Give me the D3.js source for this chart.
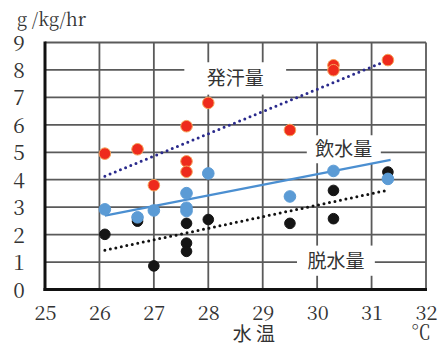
<!DOCTYPE html>
<html><head><meta charset="utf-8">
<script src="https://cdn.jsdelivr.net/npm/d3@7"></script>
<style>body{margin:0;background:#fff}svg{display:block}</style>
</head><body>
<script>
// ---- data ----
const xTicks = [25,26,27,28,29,30,31,32];
const yTicks = [0,1,2,3,4,5,6,7,8,9];
const sweatX = [26.1,26.7,27.0,27.6,27.6,27.6,28.0,29.5,30.3,30.3,31.3];
const sweatY = [4.95,5.11,3.80,5.95,4.67,4.29,6.80,5.81,8.17,7.99,8.36];
const drinkX = [26.1,26.7,27.0,27.6,27.6,27.6,28.0,29.5,30.3,31.3];
const drinkY = [2.92,2.63,2.88,3.51,2.98,2.86,4.23,3.39,4.32,4.03];
const dehydX = [26.1,26.7,27.0,27.6,27.6,27.6,28.0,29.5,30.3,30.3,31.3];
const dehydY = [2.01,2.49,0.86,2.41,1.69,1.39,2.55,2.41,3.61,2.58,4.28];
const sweatTrend = [[26.1,4.13],[31.25,8.31]];
const drinkTrend = [[26.1,2.69],[31.35,4.72]];
const dehydTrend = [[26.1,1.43],[31.3,3.62]];
const seriesLabels = ["発汗量","飲水量","脱水量"];
const unitLabel = "g /kg/hr";
const xTitle = "水 温";
const xUnit = "℃";

const SERIF = '"Noto Serif CJK JP"';
const CJK = '"Noto Sans CJK JP"';

const W = 438, H = 347;
const svg = d3.select("body").append("svg").attr("width",W).attr("height",H);
const x = d3.scaleLinear().domain([25,32]).range([45,426]);
const y = d3.scaleLinear().domain([0,9]).range([289.5,42.5]);

const grid = svg.append("g");
grid.selectAll("line.v").data(xTicks.filter(d=>d>25)).join("line")
  .attr("x1",d=>x(d)).attr("x2",d=>x(d)).attr("y1",y(0)).attr("y2",y(9))
  .attr("stroke","#5a5a5a").attr("stroke-width",1.8);
grid.selectAll("line.h").data(yTicks.filter(d=>d>0)).join("line")
  .attr("x1",x(25)).attr("x2",x(32)).attr("y1",d=>y(d)).attr("y2",d=>y(d))
  .attr("stroke","#5a5a5a").attr("stroke-width",1.8);
svg.append("line").attr("x1",x(25)).attr("x2",x(25)).attr("y1",y(9)-1).attr("y2",y(0)+1.5)
  .attr("stroke","#111").attr("stroke-width",3);
svg.append("line").attr("x1",x(25)-1.5).attr("x2",x(32)+1).attr("y1",y(0)).attr("y2",y(0))
  .attr("stroke","#111").attr("stroke-width",3);

const ax = svg.append("g").attr("transform",`translate(0,${y(0)})`)
  .call(d3.axisBottom(x).tickValues(xTicks).tickSize(0).tickPadding(0).tickFormat(d3.format("d")));
ax.select(".domain").remove();
ax.attr("font-family",SERIF).attr("font-size",20);
ax.selectAll("text").style("font-family",SERIF).attr("fill","#333").attr("dy",null).attr("y",30);
const ay = svg.append("g").attr("transform",`translate(${x(25)},0)`)
  .call(d3.axisLeft(y).tickValues(yTicks).tickSize(0).tickPadding(0).tickFormat(d3.format("d")));
ay.select(".domain").remove();
ay.attr("font-family",SERIF).attr("font-size",21);
ay.selectAll("text").style("font-family",SERIF).attr("fill","#333")
  .attr("text-anchor","middle").attr("x",-26).attr("dy","0.36em");

svg.append("text").attr("x",17).attr("y",26).style("font-family",SERIF).style("font-size","18px")
  .attr("fill","#333").text(unitLabel);
svg.append("text").attr("x",254).attr("y",341).attr("text-anchor","middle")
  .style("font-family",CJK).style("font-size","19px").attr("fill","#333").text(xTitle);
svg.append("text").attr("x",421).attr("y",340).attr("text-anchor","middle")
  .style("font-family",SERIF).style("font-size","20px").attr("fill","#333").text(xUnit);

const boxes = [
  {t:seriesLabels[0], x0:27.56, x1:29.43, y0:7.1, y1:8.28},
  {t:seriesLabels[1], x0:29.81, x1:31.17, y0:4.6, y1:5.62},
  {t:seriesLabels[2], x0:29.63, x1:31.06, y0:0.5, y1:1.6}
];
boxes.forEach(b=>{
  svg.append("rect").attr("x",x(b.x0)).attr("y",y(b.y1)).attr("width",x(b.x1)-x(b.x0))
    .attr("height",y(b.y0)-y(b.y1)).attr("fill","#fff");
  svg.append("text").attr("x",(x(b.x0)+x(b.x1))/2).attr("y",(y(b.y0)+y(b.y1))/2+7)
    .attr("text-anchor","middle").style("font-family",CJK).style("font-size","19px")
    .attr("fill","#333").text(b.t);
});

const line = d3.line().x(d=>x(d[0])).y(d=>y(d[1]));
svg.append("path").attr("d",line(sweatTrend)).attr("fill","none").attr("stroke","#2a2a8c")
  .attr("stroke-width",3).attr("stroke-linecap","round").attr("stroke-dasharray","0,5.6");
svg.append("path").attr("d",line(dehydTrend)).attr("fill","none").attr("stroke","#111")
  .attr("stroke-width",3).attr("stroke-linecap","round").attr("stroke-dasharray","0,5.6");
svg.append("path").attr("d",line(drinkTrend)).attr("fill","none").attr("stroke","#4b8fd1")
  .attr("stroke-width",2.3);

function pts(xs,ys,fill,stroke,r){
  svg.append("g").selectAll("circle").data(xs.map((d,i)=>[d,ys[i]])).join("circle")
    .attr("cx",d=>x(d[0])).attr("cy",d=>y(d[1])).attr("r",r)
    .attr("fill",fill).attr("stroke",stroke).attr("stroke-width",1);
}
pts(dehydX,dehydY,"#151515","#151515",5.3);
pts(drinkX,drinkY,"#5b9bd5","#5b9bd5",5.8);
pts(sweatX,sweatY,"#ee2b1c","#f6a35a",5.8);
</script>
</body></html>
